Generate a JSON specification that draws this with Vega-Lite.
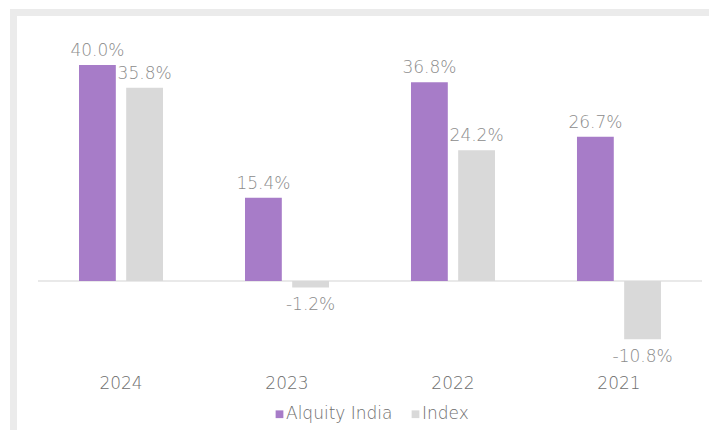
{
  "$schema": "https://vega.github.io/schema/vega-lite/v6.json",
  "width": 695.5,
  "height": 417.5,
  "autosize": {"type": "none"},
  "padding": {"left": 13.5, "top": 12.5, "right": 0, "bottom": 0},
  "background": "white",
  "config": {
    "view": {"stroke": "#EBEBEB", "strokeWidth": 7, "strokeDash": [695.5, 1113, 417.5]},
    "font": "DejaVu Sans",
    "legend": {
      "orient": "none", "legendX": 257.5, "legendY": 393, "direction": "horizontal",
      "symbolType": "square", "symbolSize": 60, "symbolStrokeWidth": 0,
      "labelFontSize": 17, "labelColor": "#6E6E6E", "labelOffset": -2,
      "columnPadding": 14, "padding": 0, "labelFontWeight": 200
    }
  },
  "data": {
    "values": [
      {"year": "2024", "series": "Alquity India", "value": 40.0, "label": "40.0%"},
      {"year": "2024", "series": "Index", "value": 35.8, "label": "35.8%"},
      {"year": "2023", "series": "Alquity India", "value": 15.4, "label": "15.4%"},
      {"year": "2023", "series": "Index", "value": -1.2, "label": "-1.2%"},
      {"year": "2022", "series": "Alquity India", "value": 36.8, "label": "36.8%"},
      {"year": "2022", "series": "Index", "value": 24.2, "label": "24.2%"},
      {"year": "2021", "series": "Alquity India", "value": 26.7, "label": "26.7%"},
      {"year": "2021", "series": "Index", "value": -10.8, "label": "-10.8%"}
    ]
  },
  "encoding": {
    "x": {
      "field": "year", "type": "nominal",
      "scale": {"domain": ["2024", "2023", "2022", "2021"], "paddingInner": 0.494, "paddingOuter": 0.342, "align": 0.577},
      "axis": {"title": null, "domain": false, "ticks": false, "tickSize": 0, "grid": false, "labelAngle": 0,
               "labelFontSize": 17, "labelColor": "#6E6E6E", "labelFontWeight": 200, "offset": -44, "labelPadding": 2, "labelBaseline": "alphabetic"}
    },
    "xOffset": {"field": "series", "type": "nominal", "scale": {"domain": ["Alquity India", "Index"], "paddingInner": 0.22, "paddingOuter": 0}},
    "y": {"field": "value", "type": "quantitative", "scale": {"domain": [-27.59, 49.72], "nice": false, "zero": false}, "axis": null}
  },
  "layer": [
    {
      "mark": {"type": "rule", "color": "#E8E8E8", "strokeWidth": 1.5},
      "encoding": {
        "x": {"datum": "2024", "type": "nominal", "bandPosition": -0.488},
        "x2": {"datum": "2021", "bandPosition": 1.488},
        "xOffset": null,
        "y": {"datum": 0, "type": "quantitative"}
      }
    },
    {
      "mark": {"type": "bar"},
      "encoding": {
        "color": {"field": "series", "type": "nominal", "scale": {"domain": ["Alquity India", "Index"], "range": ["#A77CC8", "#D9D9D9"]}, "legend": {"title": null}}
      }
    },
    {
      "transform": [{"filter": "datum.value >= 0"}],
      "mark": {"type": "text", "dy": -9, "baseline": "alphabetic", "fontSize": 17, "color": "#8C8C8C", "fontWeight": 200},
      "encoding": {"text": {"field": "label"}}
    },
    {
      "transform": [{"filter": "datum.value < 0"}],
      "mark": {"type": "text", "dy": 23, "baseline": "alphabetic", "fontSize": 17, "color": "#8C8C8C", "fontWeight": 200},
      "encoding": {"text": {"field": "label"}}
    }
  ]
}
